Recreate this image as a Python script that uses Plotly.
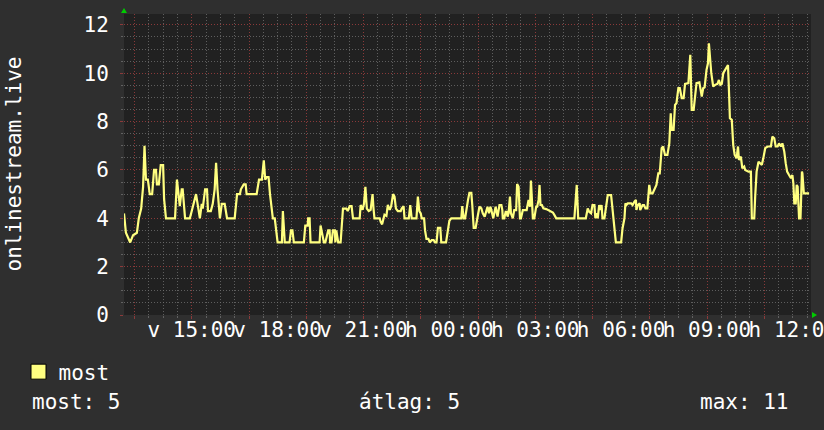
import pandas as pd
import plotly.graph_objects as go

# ---------------- data ----------------
base_day = pd.Timestamp("2024-03-10")  # a Sunday ("v" = vasárnap, "h" = hétfő)

# minutes since Sunday 00:00
time_min = [
    758, 762, 771, 777, 785, 789, 794, 798, 801, 804, 808, 812, 817, 821, 825, 827, 831, 835, 840, 842,
    846, 865, 869, 875, 879, 881, 886, 896, 900, 909, 913, 917, 921, 923, 928, 932, 934, 940, 944, 948,
    951, 954, 959, 963, 969, 974, 990, 995, 1001, 1003, 1009, 1013, 1015, 1036, 1041, 1047, 1051, 1054, 1057, 1061,
    1064, 1070, 1074, 1080, 1089, 1091, 1095, 1105, 1108, 1111, 1114, 1126,
    1135, 1138, 1143, 1144, 1147, 1149, 1168, 1170, 1173, 1177, 1180, 1186, 1189, 1190, 1193, 1196, 1200, 1201, 1203, 1207,
    1212, 1215, 1217, 1224, 1227, 1231, 1235, 1238, 1252, 1254, 1258, 1261, 1264, 1267, 1271, 1275, 1279, 1281, 1283, 1294,
    1296, 1299, 1302, 1304, 1308, 1311, 1315, 1318, 1322, 1325, 1328, 1332, 1338, 1340, 1344, 1346, 1355, 1358, 1361, 1371,
    1374, 1377, 1380, 1382, 1387, 1389, 1392, 1396, 1399, 1403, 1407, 1410, 1413, 1416, 1421, 1423, 1433, 1437, 1440, 1444,
    1465, 1467, 1470, 1473, 1476, 1479, 1482,
    1486, 1488, 1491, 1495, 1500, 1503, 1507, 1510, 1514, 1517, 1520, 1523, 1526, 1528, 1530, 1532, 1537, 1539, 1541, 1545,
    1549, 1551, 1552, 1555, 1558, 1560, 1562, 1564, 1567, 1569, 1573, 1576, 1580, 1582, 1585, 1588, 1590, 1594, 1602, 1606,
    1609, 1611, 1613, 1615, 1618, 1622, 1624, 1627, 1629, 1631, 1634, 1637, 1643, 1650, 1657, 1660, 1664, 1702, 1704, 1707,
    1710, 1726, 1730, 1733, 1737, 1740, 1744, 1746, 1749, 1751, 1754, 1756, 1759, 1761, 1765, 1768, 1772, 1779, 1781, 1784,
    1786, 1789, 1800, 1803, 1807, 1809, 1811, 1814, 1821, 1824, 1828, 1831, 1832, 1835, 1839,
    1840, 1845, 1848, 1851, 1855, 1859, 1862, 1866, 1869, 1874, 1878, 1881, 1885, 1888, 1892, 1897, 1901, 1904, 1906, 1910,
    1913, 1916, 1920, 1923, 1927, 1931, 1934, 1941, 1945, 1948, 1952, 1955, 1958, 1964, 1967, 1969, 1972, 1975, 1979, 1982,
    1984, 1987, 1989, 1993, 1997, 2002, 2005, 2008, 2011, 2014, 2018, 2021, 2024, 2026, 2028, 2032, 2035, 2038, 2042, 2045,
    2047, 2051, 2054, 2058, 2060, 2067, 2072, 2074, 2079, 2081, 2084, 2088, 2091, 2095, 2098, 2102, 2107, 2114, 2117, 2121,
    2124, 2128, 2131, 2135, 2138, 2142, 2145, 2148, 2152, 2156, 2159, 2161, 2163, 2166, 2168, 2170, 2173, 2176, 2179, 2180,
    2183, 2187, 2194,
]

visitors = [
    4.2, 3.4, 3.0, 3.3, 3.4, 4.0, 4.4, 5.3, 7.0, 5.6, 5.6, 5.0, 5.0, 6.0, 6.0, 5.4, 5.4, 6.2, 6.2, 4.8,
    4.0, 4.0, 5.6, 4.5, 5.2, 5.2, 4.0, 4.0, 4.3, 5.0, 4.5, 4.0, 4.6, 4.4, 5.2, 5.2, 4.3, 4.3, 4.6, 5.2,
    6.3, 5.2, 4.0, 4.6, 4.6, 4.0, 4.0, 5.0, 5.0, 5.2, 5.4, 5.4, 5.0, 5.0, 5.6, 5.6, 6.4, 5.6, 5.7, 5.7,
    5.0, 4.0, 4.0, 3.0, 3.0, 4.3, 3.0, 3.0, 3.5, 3.5, 3.0, 3.0,
    3.0, 3.7, 3.7, 4.0, 4.0, 3.0, 3.0, 3.7, 3.45, 3.0, 3.0, 3.5, 3.5, 3.0, 3.0, 3.5, 3.5, 3.0, 3.5, 3.0,
    3.0, 3.9, 4.4, 4.4, 4.3, 4.5, 4.5, 4.0, 4.0, 4.55, 4.35, 4.6, 5.3, 4.4, 4.3, 4.35, 5.0, 4.4, 4.0, 4.0,
    3.85, 3.75, 3.95, 4.15, 4.1, 4.55, 4.35, 4.5, 5.0, 4.9, 4.4, 4.3, 4.3, 4.4, 4.5, 4.0, 4.0, 4.55, 4.0, 4.0,
    4.9, 4.3, 4.2, 4.0, 4.0, 3.5, 3.15, 3.15, 3.0, 3.1, 3.1, 3.0, 3.0, 3.6, 3.6, 3.0, 3.0, 3.65, 3.9, 4.0,
    4.0, 4.5, 4.0, 4.0, 4.5, 4.75, 5.05,
    5.05, 4.55, 3.6, 3.6, 4.2, 4.48, 4.41, 4.21, 4.07, 4.34, 4.48, 4.21, 4.48, 4.34, 4.07, 4.0, 4.48, 4.21, 4.07, 4.55,
    4.55, 4.34, 4.0, 4.0, 4.27, 4.27, 4.07, 4.21, 4.9, 4.21, 4.0, 4.34, 4.34, 5.42, 5.3, 4.0, 4.0, 4.34, 4.34, 4.76,
    4.48, 5.56, 4.48, 4.0, 4.0, 4.48, 4.48, 4.76, 5.38, 4.55, 4.55, 4.41, 4.38, 4.32, 4.24, 4.14, 4.0, 4.0, 4.62, 5.38,
    4.0, 4.0, 4.41, 4.27, 4.21, 4.55, 4.55, 4.0, 4.21, 4.0, 4.55, 4.34, 4.55, 4.0, 4.0, 4.48, 4.96, 4.96, 4.55, 4.0,
    3.59, 3.0, 3.0, 3.59, 4.0, 4.62, 4.55, 4.62, 4.62, 4.55, 4.69, 4.76, 4.34, 4.55, 4.62,
    4.34, 4.55, 4.55, 4.41, 4.41, 5.38, 5.03, 5.03, 5.17, 5.38, 5.86, 5.86, 6.9, 6.97, 6.62, 6.62, 7.1, 8.34, 7.66, 7.66,
    8.69, 8.76, 9.38, 9.38, 8.97, 8.97, 9.56, 9.59, 10.76, 8.48, 8.48, 9.03, 9.59, 9.62, 9.31, 9.03, 9.38, 9.42, 10.14, 10.41,
    11.24, 10.41, 10.0, 9.45, 9.52, 9.56, 9.72, 9.52, 9.56, 10.0, 10.14, 10.28, 10.34, 9.31, 8.14, 8.07, 7.03, 6.62, 6.48, 6.97,
    6.41, 6.55, 6.07, 6.14, 6.0, 5.93, 5.93, 4.0, 4.0, 4.9, 5.93, 6.34, 6.28, 6.21, 6.48, 6.9, 6.97, 6.97, 7.38, 7.31,
    6.97, 6.97, 7.1, 6.97, 7.1, 6.76, 6.28, 5.93, 5.79, 5.66, 5.79, 5.45, 4.62, 4.62, 5.38, 5.31, 4.0, 4.0, 5.93, 5.86,
    5.03, 5.03, 5.03,
]

tick_min = [900, 1080, 1260, 1440, 1620, 1800, 1980, 2160]
tick_labels = ["v 15:00", "v 18:00", "v 21:00", "h 00:00", "h 03:00", "h 06:00", "h 09:00", "h 12:00"]
window_min = [758, 2198]       # 24 h window shown
grid_start_min = 780           # 13:00, first 2-hour grid line
y_max = 12.45

series_name = "most"
y_title = "onlinestream.live"
stat_names = ["most", "átlag", "max"]
stat_values = [5, 5, 11]

# ---------------- figure ----------------
FONT = "DejaVu Sans Mono"
RED = "rgba(150,60,60,0.9)"
GRAY = "rgba(110,110,110,0.8)"
LINE = "#ffff80"
PAPER = "#2f2f2f"
W, H = 824, 430
ML, MR, MT, MB = 124, 13, 14, 115
PW, PH = W - ML - MR, H - MT - MB


def ts(m):
    return base_day + pd.to_timedelta(m, unit="min")


times = [ts(m) for m in time_min]

fig = go.Figure()
fig.add_trace(go.Scatter(
    x=times, y=visitors, mode="lines", name=series_name,
    line=dict(color=LINE, width=2.2), showlegend=False,
))
# legend swatch (square, like the original)
fig.add_trace(go.Scatter(
    x=[None], y=[None], mode="markers", name=series_name,
    marker=dict(symbol="square", size=15, color=LINE, line=dict(color="#000000", width=1)),
    showlegend=True,
))
# carrier for the label axis
fig.add_trace(go.Scatter(
    x=[ts(m) for m in tick_min], y=[None] * len(tick_min), xaxis="x2",
    mode="markers", showlegend=False, hoverinfo="skip",
))

dot = "1px,2px"
fig.update_layout(
    width=W, height=H,
    margin=dict(l=ML, r=MR, t=MT, b=MB, autoexpand=False),
    paper_bgcolor=PAPER, plot_bgcolor="#212121",
    font=dict(family=FONT, size=21, color="#ffffff"),
    xaxis=dict(
        type="date", range=[ts(window_min[0]), ts(window_min[1])], automargin=False,
        dtick=2 * 3600 * 1000, tick0=ts(grid_start_min),
        showgrid=True, gridcolor=RED, griddash=dot, gridwidth=1,
        showticklabels=False, ticks="outside", ticklen=3, tickcolor=RED,
        minor=dict(dtick=30 * 60 * 1000, showgrid=True, gridcolor=GRAY, griddash=dot,
                   ticks="outside", ticklen=2, tickcolor=GRAY),
        zeroline=False, showline=False,
    ),
    xaxis2=dict(
        type="date", overlaying="x", anchor="y", side="bottom", automargin=False,
        range=[ts(window_min[0]), ts(window_min[1])],
        tickmode="array", tickvals=[ts(m) for m in tick_min], ticktext=tick_labels,
        showgrid=False, ticks="", tickangle=0, ticklabeloverflow="allow",
        ticklabelstandoff=0,
        tickfont=dict(family=FONT, size=21, color="#ffffff"),
        zeroline=False, showline=False,
    ),
    yaxis=dict(
        range=[0, y_max], dtick=2, tick0=0, automargin=False,
        showgrid=True, gridcolor=RED, griddash=dot, gridwidth=1,
        ticks="outside", ticklen=3, tickcolor=RED, ticklabelstandoff=7,
        minor=dict(dtick=0.5, showgrid=True, gridcolor=GRAY, griddash=dot,
                   ticks="outside", ticklen=2, tickcolor=GRAY),
        zeroline=False, showline=False,
        tickfont=dict(family=FONT, size=21, color="#ffffff"),
    ),
    legend=dict(
        xref="container", yref="container",
        x=18.5 / W, xanchor="left", y=1 - 351.5 / H, yanchor="top",
        bgcolor="rgba(0,0,0,0)", borderwidth=0,
        font=dict(family=FONT, size=21, color="#ffffff"),
    ),
    showlegend=True,
)

# vertical axis title
fig.add_annotation(
    x=(13 - ML) / PW, y=0.5, xref="paper", yref="paper", xanchor="center", yanchor="middle",
    text=y_title, textangle=-90, showarrow=False,
    font=dict(family=FONT, size=21, color="#ffffff"),
)

# summary line under the legend
stat_x_px = [30, 357, 698]
for name, val, xp in zip(stat_names, stat_values, stat_x_px):
    fig.add_annotation(
        x=(xp - ML) / PW, y=(H - MB - 402) / PH,
        xref="paper", yref="paper", xanchor="left", yanchor="middle",
        text=f"{name}: {val}", showarrow=False,
        font=dict(family=FONT, size=21, color="#ffffff"),
    )

GREEN = "#00cc00"
fig.add_shape(type="path", xref="paper", yref="paper", xsizemode="pixel", ysizemode="pixel",
              xanchor=0, yanchor=1, path="M-3,1 L3,1 L0,6 Z",
              fillcolor=GREEN, line=dict(width=0), layer="above")
fig.add_shape(type="path", xref="paper", yref="paper", xsizemode="pixel", ysizemode="pixel",
              xanchor=1, yanchor=0, path="M1,-3 L1,3 L6,0 Z",
              fillcolor=GREEN, line=dict(width=0), layer="above")

fig.write_html(
    "out.html",
    config={"displayModeBar": False},
    post_script=f"document.body.style.margin='0';document.body.style.background='{PAPER}';",
)
